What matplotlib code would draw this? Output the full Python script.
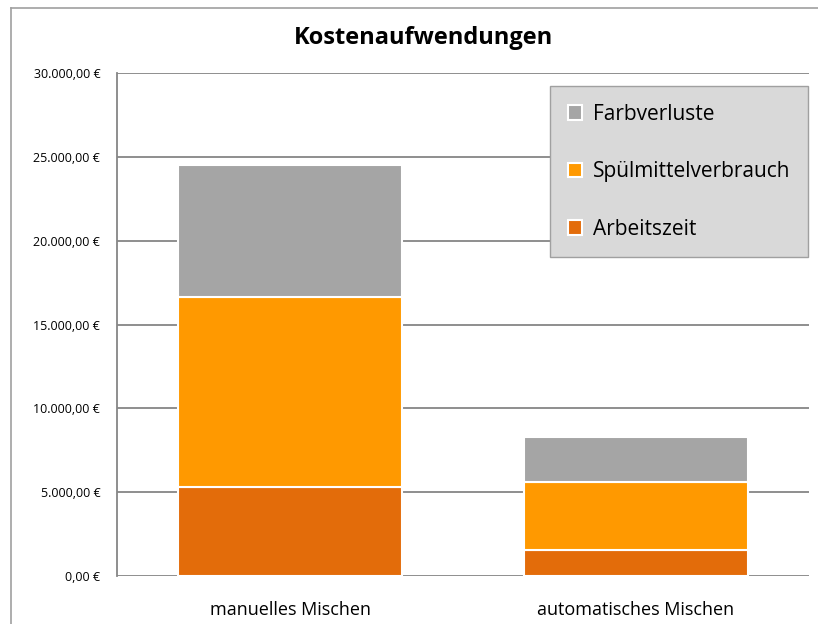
import matplotlib
matplotlib.use("Agg")
import matplotlib.pyplot as plt
from matplotlib.lines import Line2D
from matplotlib.ticker import FuncFormatter

# Daten
kategorien = ["manuelles Mischen", "automatisches Mischen"]
arbeitszeit = [5300, 1550]
spuelmittel = [11340, 4050]
farbverluste = [7860, 2690]
serien = ["Arbeitszeit", "Spülmittelverbrauch", "Farbverluste"]
farben = ["#e36c0a", "#ff9900", "#a5a5a5"]

plt.rcParams["font.family"] = ["Open Sans", "DejaVu Sans"]

fig = plt.figure(figsize=(8.18, 6.24), dpi=100)
ax = fig.add_axes([117 / 818, 48 / 624, 692 / 818, 503 / 624])

# Rahmen um das Diagramm (rechts und unten abgeschnitten)
x0, y0 = 11 / 818, 1 - 8 / 624
fig.lines.append(Line2D([x0, 1.0], [y0, y0], transform=fig.transFigure,
                        color="#a0a0a0", linewidth=1.2))
fig.lines.append(Line2D([x0, x0], [0.0, y0], transform=fig.transFigure,
                        color="#a0a0a0", linewidth=1.2))

x = range(len(kategorien))
unten = [0, 0]
for name, werte, farbe in zip(serien, [arbeitszeit, spuelmittel, farbverluste], farben):
    ax.bar(x, werte, width=0.65, bottom=unten, color=farbe,
           edgecolor="white", linewidth=1.5, label=name, zorder=3)
    unten = [u + w for u, w in zip(unten, werte)]

ax.set_xlim(-0.5, 1.5)
ax.set_ylim(0, 30000)
ax.set_yticks(range(0, 30001, 5000))
ax.yaxis.set_major_formatter(FuncFormatter(
    lambda v, p: f"{v:,.2f}".replace(",", "X").replace(".", ",").replace("X", ".") + " €"))
ax.yaxis.grid(True, color="#868686", linewidth=1.3, zorder=0)
ax.set_xticks(list(x))
ax.set_xticklabels(kategorien, fontsize=13)
ax.tick_params(axis="x", length=0, pad=18)
ax.tick_params(axis="y", length=0, labelsize=9, pad=12)

for s in ["top", "right", "bottom"]:
    ax.spines[s].set_visible(False)
ax.spines["left"].set_color("#868686")
ax.spines["left"].set_linewidth(1.3)

fig.text(423 / 818, 1 - 38 / 624, "Kostenaufwendungen", ha="center", va="center",
         fontsize=17, fontweight="bold")

handles, labels = ax.get_legend_handles_labels()
leg = ax.legend(handles[::-1], labels[::-1], loc="upper left",
                bbox_to_anchor=((550 - 117) / 692, 1 - (86 - 73) / 503),
                fontsize=15, frameon=True, fancybox=False,
                handlelength=0.7, handleheight=0.7, handletextpad=0.5,
                labelspacing=1.75, borderpad=0.85, borderaxespad=0)
leg.get_frame().set_facecolor("#d9d9d9")
leg.get_frame().set_edgecolor("#a0a0a0")
leg.get_frame().set_alpha(1)
leg.set_zorder(5)

fig.savefig("out.png", dpi=100)
